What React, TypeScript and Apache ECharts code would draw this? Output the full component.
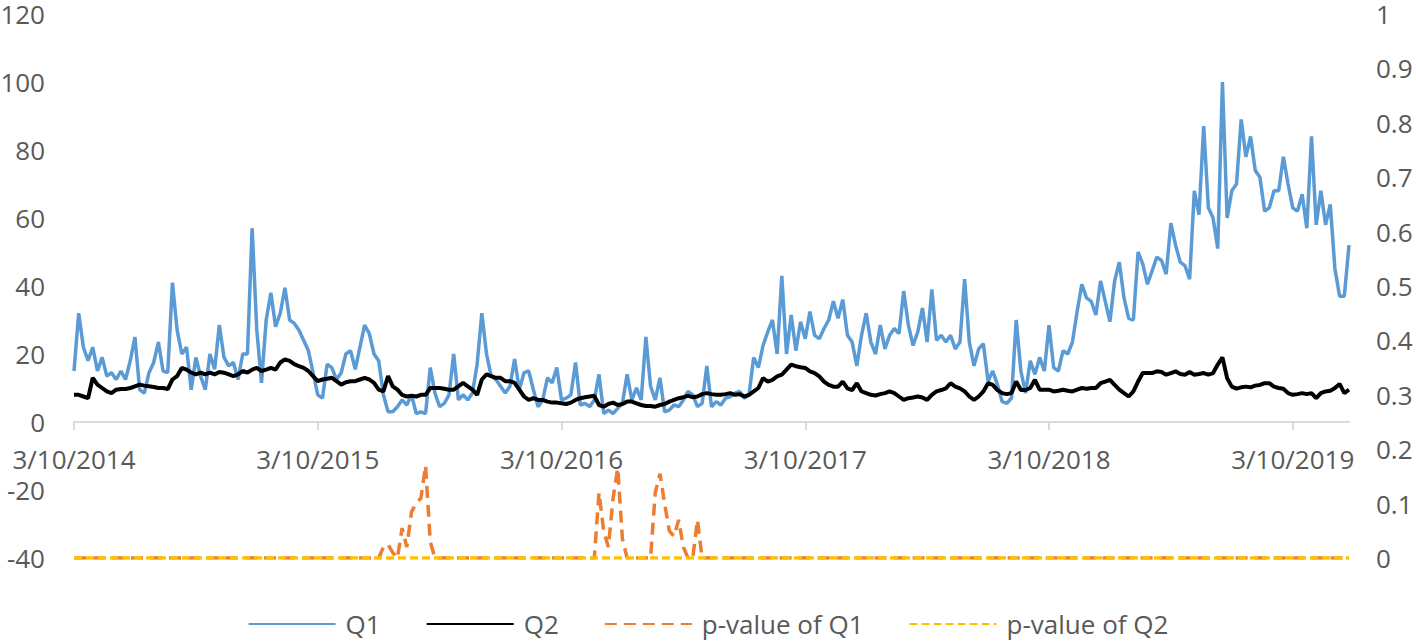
import React, { useEffect, useRef } from "react";
import * as echarts from "echarts";

// Tick labels of the date axis (one every 52 weekly points)
const yearLabels = ["3/10/2014", "3/10/2015", "3/10/2016", "3/10/2017", "3/10/2018", "3/10/2019"];
const leftTicks = { min: -40, max: 120, interval: 20 };
const rightTicks = { min: 0, max: 1, interval: 0.1 };

// Q1 (weekly readings)
const q1 = [
  15, 32, 22, 18, 22, 15, 19, 13.5, 14.5, 12.5,
  15, 12.5, 18, 25, 9.5, 8.5, 14.5, 17.5, 23.5, 15,
  14.5, 41, 27, 20, 22, 9.5, 19, 13.5, 9.5, 20,
  15.5, 28.5, 19, 16.5, 17.5, 12.5, 20, 20, 57, 27,
  11.5, 30, 38, 28, 32, 39.5, 30, 29, 27, 24,
  21, 14.5, 8, 7, 17, 16, 12.5, 14.5, 20, 21,
  15.5, 22, 28.5, 26, 20, 18, 8, 3, 3, 4.5,
  6.5, 5, 8, 2.5, 3, 2.5, 16, 8.5, 4.5, 5.5,
  8, 20, 6.5, 8, 6.5, 8.5, 17, 32, 20, 13.5,
  12.5, 10.5, 8.5, 10.5, 18.5, 9.5, 14.5, 15, 9.5, 4.5,
  6.5, 13, 11.5, 16, 6.5, 7, 8, 17.5, 5, 5.5,
  4.5, 6.5, 14, 2.5, 3.5, 2.5, 4, 5.5, 14, 6.5,
  10, 6.5, 25, 10.5, 6.5, 13, 3, 3.5, 5, 4.5,
  6.5, 9, 8, 4.5, 5.5, 16.5, 4.5, 6, 5, 7,
  7.5, 8.5, 9, 7, 8, 19, 16, 22.5, 26.5, 30,
  20, 43, 20, 31.5, 21, 29.5, 24.5, 32.5, 25.5, 24.5,
  27.5, 30, 35.5, 30.5, 36, 25.5, 23.5, 16.5, 25.5, 32,
  23.5, 20, 28.5, 21.5, 25.5, 27.5, 26, 38.5, 28.5, 22.5,
  26.5, 33.5, 23.5, 39, 24, 25.5, 23.5, 25.5, 21.5, 23.5,
  42, 23.5, 16.5, 21.5, 23, 12, 15, 11, 6, 5.5,
  7, 30, 15, 8.5, 18, 14, 19, 15, 28.5, 16,
  15, 21, 20, 23.5, 32.5, 40.5, 36.5, 35.5, 31.5, 41.5,
  35.5, 29.5, 41.5, 47, 36.5, 30.5, 30, 50, 46.5, 40.5,
  44.5, 48.5, 47.5, 43.5, 58.5, 52, 47, 46, 42, 68,
  61, 87, 63, 60, 51, 100, 60, 68, 70, 89,
  78, 84, 74, 72, 62, 63, 68, 68, 78, 70,
  63, 62, 67, 57, 84, 58, 68, 58, 64, 45,
  37, 37, 52,
];

// Q2 (weekly readings)
const q2 = [
  8, 8, 7.5, 7, 13, 11, 10, 9, 8.5, 9.5,
  9.7, 9.7, 10, 10.5, 11, 10.7, 10.5, 10.3, 10, 10,
  9.7, 12.5, 13.5, 15.9, 15.4, 14.5, 14, 14.5, 14, 14.5,
  14, 14.7, 14.5, 14, 13.5, 14, 15, 14.5, 15.4, 15.9,
  15, 15.4, 15.9, 15.4, 17.5, 18.4, 18, 17, 16.4, 15.9,
  15, 13.5, 12, 12.5, 12.7, 13, 12, 11, 11.7, 12,
  12, 12.5, 13, 12.5, 11.5, 9.5, 9, 13.5, 10.5, 9.5,
  8, 7.5, 7.7, 7.5, 8, 8, 10, 10, 10, 9.8,
  9.5, 9.5, 10.5, 11.5, 10.5, 9.5, 8, 12.5, 14, 13.5,
  13, 13, 12, 12, 11.5, 9.5, 7.5, 6.5, 7, 6.5,
  6.5, 6, 5.7, 5.7, 5.5, 5.3, 5.7, 6.5, 7, 7.3,
  7.5, 7.7, 5, 4.5, 5.3, 5.7, 5, 5.3, 6, 6,
  5.5, 5, 4.7, 4.7, 4.5, 5, 5.3, 6, 6.5, 7,
  7.3, 7.7, 7.3, 7.5, 8.2, 8.5, 8.2, 8, 8, 8.2,
  8.5, 8, 8.2, 7.5, 8, 9, 10, 12.9, 11.9, 12.4,
  13.4, 13.9, 15.4, 16.9, 16.4, 16.1, 15.9, 14.9, 14.4, 13.4,
  11.9, 10.9, 10.4, 10.4, 11.9, 9.9, 9.4, 11.4, 9, 8.5,
  8, 7.8, 8.2, 8.5, 9, 8.5, 7.5, 6.5, 7, 7.2,
  7.5, 7.2, 6.5, 8, 9, 9.4, 9.9, 11.4, 10.4, 9.9,
  9, 7.5, 6.5, 7.5, 9, 11.4, 10.9, 9.4, 8.5, 8.2,
  8.5, 11.9, 9.4, 9.4, 10, 12.4, 9.5, 9.5, 9.5, 9,
  9.2, 9.5, 9.2, 9, 9.5, 10, 9.8, 10, 10, 11.4,
  11.9, 12.4, 10.9, 9.5, 8.5, 7.5, 9, 11.9, 14.4, 14.4,
  14.4, 14.9, 14.7, 13.9, 14.4, 14.9, 14.1, 13.9, 14.7, 13.9,
  14.1, 14.4, 13.9, 14.4, 16.9, 19, 12.9, 10.4, 9.8, 10.2,
  10.4, 10.2, 10.7, 10.9, 11.4, 11.4, 10.4, 10, 9.8, 8.5,
  8, 8.2, 8.5, 8.2, 8.5, 7, 8.5, 9, 9.2, 10,
  11.2, 8.5, 9.5,
];

// p-value of Q1 (right axis)
const pQ1 = [
  0, 0, 0, 0, 0, 0, 0, 0, 0, 0,
  0, 0, 0, 0, 0, 0, 0, 0, 0, 0,
  0, 0, 0, 0, 0, 0, 0, 0, 0, 0,
  0, 0, 0, 0, 0, 0, 0, 0, 0, 0,
  0, 0, 0, 0, 0, 0, 0, 0, 0, 0,
  0, 0, 0, 0, 0, 0, 0, 0, 0, 0,
  0, 0, 0, 0, 0, 0, 0.02, 0.025, 0.01, 0,
  0.055, 0.02, 0.085, 0.1, 0.11, 0.17, 0.03, 0, 0, 0,
  0, 0, 0, 0, 0, 0, 0, 0, 0, 0,
  0, 0, 0, 0, 0, 0, 0, 0, 0, 0,
  0, 0, 0, 0, 0, 0, 0, 0, 0, 0,
  0, 0, 0.12, 0.05, 0.02, 0.11, 0.165, 0.035, 0, 0,
  0, 0, 0, 0, 0.12, 0.155, 0.1, 0.05, 0.04, 0.07,
  0.02, 0, 0, 0.07, 0, 0, 0, 0, 0, 0,
  0, 0, 0, 0, 0, 0, 0, 0, 0, 0,
  0, 0, 0, 0, 0, 0, 0, 0, 0, 0,
  0, 0, 0, 0, 0, 0, 0, 0, 0, 0,
  0, 0, 0, 0, 0, 0, 0, 0, 0, 0,
  0, 0, 0, 0, 0, 0, 0, 0, 0, 0,
  0, 0, 0, 0, 0, 0, 0, 0, 0, 0,
  0, 0, 0, 0, 0, 0, 0, 0, 0, 0,
  0, 0, 0, 0, 0, 0, 0, 0, 0, 0,
  0, 0, 0, 0, 0, 0, 0, 0, 0, 0,
  0, 0, 0, 0, 0, 0, 0, 0, 0, 0,
  0, 0, 0, 0, 0, 0, 0, 0, 0, 0,
  0, 0, 0, 0, 0, 0, 0, 0, 0, 0,
  0, 0, 0, 0, 0, 0, 0, 0, 0, 0,
  0, 0, 0,
];

// p-value of Q2 (right axis)
const pQ2 = [
  0, 0, 0, 0, 0, 0, 0, 0, 0, 0,
  0, 0, 0, 0, 0, 0, 0, 0, 0, 0,
  0, 0, 0, 0, 0, 0, 0, 0, 0, 0,
  0, 0, 0, 0, 0, 0, 0, 0, 0, 0,
  0, 0, 0, 0, 0, 0, 0, 0, 0, 0,
  0, 0, 0, 0, 0, 0, 0, 0, 0, 0,
  0, 0, 0, 0, 0, 0, 0, 0, 0, 0,
  0, 0, 0, 0, 0, 0, 0, 0, 0, 0,
  0, 0, 0, 0, 0, 0, 0, 0, 0, 0,
  0, 0, 0, 0, 0, 0, 0, 0, 0, 0,
  0, 0, 0, 0, 0, 0, 0, 0, 0, 0,
  0, 0, 0, 0, 0, 0, 0, 0, 0, 0,
  0, 0, 0, 0, 0, 0, 0, 0, 0, 0,
  0, 0, 0, 0, 0, 0, 0, 0, 0, 0,
  0, 0, 0, 0, 0, 0, 0, 0, 0, 0,
  0, 0, 0, 0, 0, 0, 0, 0, 0, 0,
  0, 0, 0, 0, 0, 0, 0, 0, 0, 0,
  0, 0, 0, 0, 0, 0, 0, 0, 0, 0,
  0, 0, 0, 0, 0, 0, 0, 0, 0, 0,
  0, 0, 0, 0, 0, 0, 0, 0, 0, 0,
  0, 0, 0, 0, 0, 0, 0, 0, 0, 0,
  0, 0, 0, 0, 0, 0, 0, 0, 0, 0,
  0, 0, 0, 0, 0, 0, 0, 0, 0, 0,
  0, 0, 0, 0, 0, 0, 0, 0, 0, 0,
  0, 0, 0, 0, 0, 0, 0, 0, 0, 0,
  0, 0, 0, 0, 0, 0, 0, 0, 0, 0,
  0, 0, 0, 0, 0, 0, 0, 0, 0, 0,
  0, 0, 0,
];

// Weekly dates, starting 3/10/2014
const categories = q1.map((_, i) => {
  const d = new Date(2014, 2, 10 + 7 * i);
  return `${d.getMonth() + 1}/${d.getDate()}/${d.getFullYear()}`;
});

const WEEKS_PER_YEAR = 52;
const FONT = "'Open Sans', sans-serif";
const TEXT = "#595959";
const FS = 26;
const LH = 22;

const GRID_TOP = 14;
const GRID_HEIGHT = 544;

export default function App() {
  const ref = useRef<HTMLDivElement>(null);

  useEffect(() => {
    if (!ref.current) return;
    const chart = echarts.init(ref.current, null, { renderer: "svg" });
    const isYearTick = (index: number) => index % WEEKS_PER_YEAR === 0;
    // pixel distance from the grid bottom (value -40) up to the value 0
    const zeroOffset =
      -(GRID_HEIGHT * (0 - leftTicks.min)) / (leftTicks.max - leftTicks.min);
    chart.setOption({
      animation: false,
      textStyle: { fontFamily: FONT },
      grid: {
        left: 74,
        top: GRID_TOP,
        width: 1275,
        height: GRID_HEIGHT,
        containLabel: false,
        outerBoundsMode: "none",
      },
      legend: {
        top: 606,
        left: "center",
        itemWidth: 87,
        itemHeight: 14,
        itemGap: 45,
        itemStyle: { opacity: 0, borderWidth: 0 },
        textStyle: { fontFamily: FONT, fontSize: FS, color: TEXT, padding: [0, 0, 0, 5] },
        data: ["Q1", "Q2", "p-value of Q1", "p-value of Q2"],
      },
      xAxis: {
        type: "category",
        data: categories,
        boundaryGap: false,
        position: "bottom",
        offset: zeroOffset,
        axisLine: { onZero: false, lineStyle: { color: "#D9D9D9", width: 2 } },
        axisTick: {
          show: true,
          interval: (index: number) => isYearTick(index),
          length: 8,
          lineStyle: { color: "#D9D9D9", width: 2 },
        },
        axisLabel: {
          interval: (index: number) => isYearTick(index),
          formatter: (_v: string, index: number) =>
            isYearTick(index) ? yearLabels[index / WEEKS_PER_YEAR] ?? "" : "",
          margin: 26,
          fontFamily: FONT,
          fontSize: FS,
          lineHeight: LH,
          color: TEXT,
        },
        splitLine: { show: false },
      },
      yAxis: [
        {
          type: "value",
          ...leftTicks,
          axisLine: { show: false },
          axisTick: { show: false },
          splitLine: { show: false },
          axisLabel: { margin: 29, fontFamily: FONT, fontSize: FS, lineHeight: LH, color: TEXT },
        },
        {
          type: "value",
          ...rightTicks,
          position: "right",
          axisLine: { show: false },
          axisTick: { show: false },
          splitLine: { show: false },
          axisLabel: { margin: 27, fontFamily: FONT, fontSize: FS, lineHeight: LH, color: TEXT },
        },
      ],
      series: [
        {
          name: "Q1",
          type: "line",
          yAxisIndex: 0,
          data: q1,
          symbol: "none",
          showSymbol: false,
          lineStyle: { color: "#5B9BD5", width: 3.5 },
          itemStyle: { color: "#5B9BD5" },
        },
        {
          name: "Q2",
          type: "line",
          yAxisIndex: 0,
          data: q2,
          symbol: "none",
          showSymbol: false,
          lineStyle: { color: "#000000", width: 4 },
          itemStyle: { color: "#000000" },
        },
        {
          name: "p-value of Q1",
          type: "line",
          yAxisIndex: 1,
          data: pQ1,
          symbol: "none",
          showSymbol: false,
          lineStyle: { color: "#ED7D31", width: 3.5, type: [12, 7] },
          itemStyle: { color: "#ED7D31" },
        },
        {
          name: "p-value of Q2",
          type: "line",
          yAxisIndex: 1,
          data: pQ2,
          symbol: "none",
          showSymbol: false,
          lineStyle: { color: "#FFC000", width: 3.5, type: [8, 4] },
          itemStyle: { color: "#FFC000" },
        },
      ],
    });
    return () => chart.dispose();
  }, []);

  return (
    <div
      ref={ref}
      style={{ position: "absolute", left: 0, top: 0, width: 1416, height: 643 }}
    />
  );
}
